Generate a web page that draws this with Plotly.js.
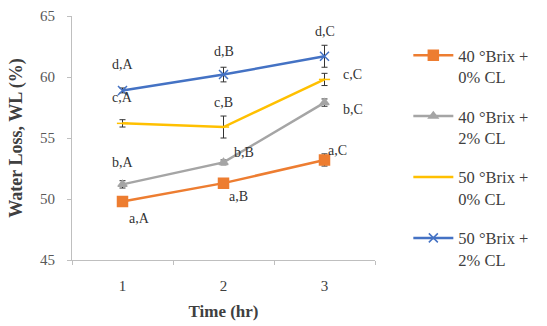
<!DOCTYPE html>
<html>
<head>
<meta charset="utf-8">
<script src="https://cdn.plot.ly/plotly-3.0.1.min.js"></script>
<style>html,body{margin:0;padding:0;background:#fff;}#chart{width:547px;height:326px;}</style>
</head>
<body>
<div id="chart"></div>
<script>
// ---- data ----
var timeHr = ["1", "2", "3"];
var seriesNames = ["40 °Brix +<br>0% CL", "40 °Brix +<br>2% CL", "50 °Brix +<br>0% CL", "50 °Brix +<br>2% CL"];
var wl40b0 = [49.8, 51.3, 53.2];
var wl40b2 = [51.2, 53.0, 57.9];
var wl50b0 = [56.2, 55.9, 59.8];
var wl50b2 = [58.9, 60.2, 61.7];
var err40b0 = [0.3, 0.2, 0.5];
var err40b2 = [0.3, 0.2, 0.3];
var err50b0 = [0.3, 0.9, 0.5];
var err50b2 = [0.2, 0.6, 0.9];
var sig40b0 = ["a,A", "a,B", "a,C"];
var sig40b2 = ["b,A", "b,B", "b,C"];
var sig50b0 = ["c,A", "c,B", "c,C"];
var sig50b2 = ["d,A", "d,B", "d,C"];

// ---- styling ----
var serif = "Liberation Serif";
var colors = ["#ED7D31", "#A5A5A5", "#FFC000", "#4472C4"];
var symbols = ["square", "triangle-up", "line-ew-open", "x-thin-open"];
var msizes = [10, 8, 8, 9];
var values = [wl40b0, wl40b2, wl50b0, wl50b2];
var errs = [err40b0, err40b2, err50b0, err50b2];
var sigs = [sig40b0, sig40b2, sig50b0, sig50b2];
// label offsets [dx (category units), dy (data units)] per series / point
var labelOffsets = [
  [[0.17, -1.4], [0.15, -1.1], [0.13, 0.8]],
  [[0, 1.8], [0.2, 0.8], [0.28, -0.6]],
  [[0, 2.1], [0, 2.0], [0.28, 0.4]],
  [[0, 2.1], [0, 1.85], [0, 2.0]]
];

var traces = values.map(function (v, i) {
  return {
    x: timeHr, y: v, type: "scatter", mode: "lines+markers",
    name: seriesNames[i], legendgroup: "g" + i,
    line: {color: colors[i], width: 2.5},
    marker: {color: colors[i], symbol: symbols[i], size: msizes[i], line: {color: colors[i], width: 1.5}},
    error_y: {type: "data", array: errs[i], visible: true, color: "#333333", thickness: 1, width: 3}
  };
});

var annotations = [];
sigs.forEach(function (s, i) {
  s.forEach(function (t, j) {
    annotations.push({
      x: j + labelOffsets[i][j][0], y: values[i][j] + labelOffsets[i][j][1],
      xref: "x", yref: "y", text: t, showarrow: false,
      font: {family: serif, size: 14, color: "#333333"}
    });
  });
});

var layout = {
  width: 547, height: 326,
  font: {family: serif, color: "#404040"},
  margin: {l: 72, r: 172, t: 16, b: 66, autoexpand: false},
  paper_bgcolor: "#ffffff", plot_bgcolor: "#ffffff",
  showlegend: true,
  legend: {
    x: 1.11, y: 0.91, xanchor: "left", yanchor: "top",
    font: {family: serif, size: 16.5, color: "#404040"},
    tracegroupgap: 15, valign: "top", itemwidth: 40
  },
  xaxis: {
    type: "category", range: [-0.5, 2.5],
    showline: true, linecolor: "#BFBFBF", linewidth: 1,
    ticks: "outside", ticklen: 4, tickcolor: "#BFBFBF", tickson: "boundaries",
    showgrid: false, zeroline: false,
    ticklabelstandoff: 12,
    tickfont: {family: serif, size: 15, color: "#404040"},
    title: {text: "<b>Time (hr)</b>", font: {family: serif, size: 17, color: "#404040"}, standoff: 12}
  },
  yaxis: {
    range: [45, 65], dtick: 5, tick0: 45,
    showline: true, linecolor: "#BFBFBF", linewidth: 1,
    ticks: "outside", ticklen: 4, tickcolor: "#BFBFBF",
    showgrid: false, zeroline: false,
    ticklabelstandoff: 9,
    tickfont: {family: serif, size: 15, color: "#595959"},
    title: {text: "<b>Water Loss, WL (%)</b>", font: {family: serif, size: 18, color: "#404040"}, standoff: 12}
  },
  annotations: annotations
};

Plotly.newPlot("chart", traces, layout, {displayModeBar: false, staticPlot: true});
</script>
</body>
</html>
